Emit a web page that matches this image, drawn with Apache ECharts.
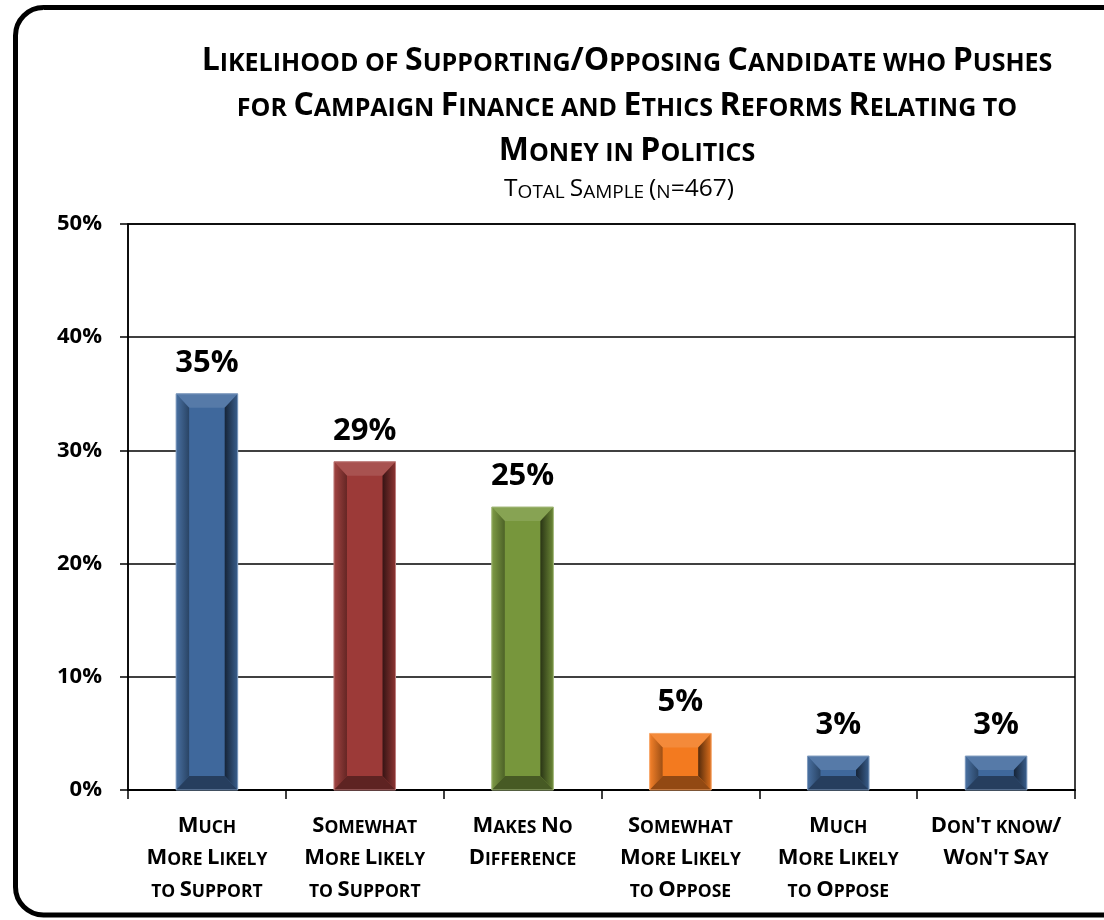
<!DOCTYPE html>
<html>
<head>
<meta charset="utf-8">
<script src="https://cdn.jsdelivr.net/npm/echarts@6/dist/echarts.min.js"></script>
<style>
html,body{margin:0;padding:0;background:#fff;}
#main{width:1104px;height:920px;}
</style>
</head>
<body>
<div id="main"></div>
<script>
// ---- data ----
var categories = [
  "Much\nMore Likely\nto Support",
  "Somewhat\nMore Likely\nto Support",
  "Makes No\nDifference",
  "Somewhat\nMore Likely\nto Oppose",
  "Much\nMore Likely\nto Oppose",
  "Don't know/\nWon't Say"
];
var values = [35, 29, 25, 5, 3, 3];
var barColors = ["#3F689C", "#9C3A38", "#77963C", "#F37A1F", "#3F689C", "#3F689C"];
var titleLines = [
  "Likelihood of Supporting/Opposing Candidate who Pushes",
  "for Campaign Finance and Ethics Reforms Relating to",
  "Money in Politics"
];
var subtitleText = "Total Sample (n=467)";
var yTicks = { min: 0, max: 50, interval: 10 };

var FONT = "Open Sans";

// small caps emulation via rich text
function sc(str, big, small) {
  return str.split("\n").map(function (line) {
    var out = "", cur = null, buf = "";
    for (var i = 0; i < line.length; i++) {
      var ch = line[i];
      var lower = /[a-z]/.test(ch);
      var t = lower ? small : big;
      if (ch === " ") t = cur || small;
      var c = lower ? ch.toUpperCase() : ch;
      if (t !== cur) {
        if (buf) out += "{" + cur + "|" + buf + "}";
        buf = "";
        cur = t;
      }
      buf += c;
    }
    if (buf) out += "{" + cur + "|" + buf + "}";
    return out;
  }).join("\n");
}

function shade(hex, f) {
  var n = parseInt(hex.slice(1), 16);
  var r = (n >> 16) & 255, g = (n >> 8) & 255, b = n & 255;
  function m(c) {
    return f < 0 ? Math.round(c * (1 + f)) : Math.round(c + (255 - c) * f);
  }
  return "rgb(" + m(r) + "," + m(g) + "," + m(b) + ")";
}

var chart = echarts.init(document.getElementById("main"), null, { renderer: "canvas" });

var option = {
  backgroundColor: "#ffffff",
  animation: false,
  grid: {
    left: 128, right: 29, top: 224, bottom: 130,
    show: true, borderColor: "#000", borderWidth: 1.5, backgroundColor: "transparent"
  },
  xAxis: {
    type: "category",
    data: categories,
    boundaryGap: true,
    axisLine: { show: true, lineStyle: { color: "#000", width: 2 } },
    axisTick: { show: true, interval: 0, length: 9, lineStyle: { color: "#000", width: 1.5 } },
    axisLabel: {
      interval: 0,
      margin: 15,
      formatter: function (v) { return sc(v, "b", "s"); },
      rich: {
        b: { fontFamily: FONT, fontWeight: "bold", fontSize: 22, lineHeight: 32, color: "#000", verticalAlign: "bottom" },
        s: { fontFamily: FONT, fontWeight: "bold", fontSize: 17.5, lineHeight: 32, color: "#000", verticalAlign: "bottom" }
      }
    },
    splitLine: { show: false }
  },
  yAxis: {
    type: "value",
    min: yTicks.min, max: yTicks.max, interval: yTicks.interval,
    axisLine: { show: true, lineStyle: { color: "#000", width: 1.5 } },
    axisTick: { show: true, length: 8, lineStyle: { color: "#000", width: 1.5 } },
    axisLabel: {
      formatter: "{value}%",
      margin: 26,
      fontFamily: FONT, fontWeight: "bold", fontSize: 22, color: "#000"
    },
    splitLine: { show: true, lineStyle: { color: "#000", width: 1.5 } }
  },
  graphic: [
    {
      type: "rect", z: 100, silent: true,
      shape: { x: 15.5, y: 7.5, width: 1130, height: 907.5, r: 28 },
      style: { fill: "none", stroke: "#000", lineWidth: 5 }
    },
    {
      type: "text", z: 100, silent: true,
      x: 627, y: 99,
      style: {
        text: sc(titleLines.join("\n"), "b", "s"),
        align: "center", verticalAlign: "middle",
        rich: {
          b: { fontFamily: FONT, fontWeight: "bold", fontSize: 32, lineHeight: 45, fill: "#000", verticalAlign: "bottom" },
          s: { fontFamily: FONT, fontWeight: "bold", fontSize: 25, lineHeight: 45, fill: "#000", verticalAlign: "bottom" }
        }
      }
    },
    {
      type: "text", z: 100, silent: true,
      x: 619, y: 188,
      style: {
        text: sc(subtitleText, "b", "s"),
        align: "center", verticalAlign: "middle",
        rich: {
          b: { fontFamily: FONT, fontWeight: "normal", fontSize: 24.5, lineHeight: 28, fill: "#000", verticalAlign: "bottom" },
          s: { fontFamily: FONT, fontWeight: "normal", fontSize: 19, lineHeight: 28, fill: "#000", verticalAlign: "bottom" }
        }
      }
    }
  ],
  series: [{
    type: "custom",
    data: values.map(function (v, i) { return [i, v]; }),
    encode: { x: 0, y: 1 },
    z: 10,
    renderItem: function (params, api) {
      var i = params.dataIndex;
      var val = api.value(1);
      var top = api.coord([api.value(0), val]);
      var base = api.coord([api.value(0), 0]);
      var bw = api.size([1, 0])[0] * 0.39;
      var cx = top[0];
      var x0 = cx - bw / 2, x1 = cx + bw / 2, y0 = top[1], y1 = base[1];
      var h = y1 - y0;
      var bx = Math.min(13, bw * 0.22);
      var by = Math.min(14, h * 0.42);
      var c = barColors[i];
      var face = c;
      var topC = shade(c, 0.12);
      var leftG = new echarts.graphic.LinearGradient(0, 0, 1, 0, [
        { offset: 0, color: shade(c, 0.05) }, { offset: 1, color: shade(c, -0.35) }
      ]);
      var rightG = new echarts.graphic.LinearGradient(0, 0, 1, 0, [
        { offset: 0, color: shade(c, -0.65) }, { offset: 1, color: shade(c, -0.1) }
      ]);
      var botC = shade(c, -0.4);
      return {
        type: "group",
        children: [
          { type: "rect", shape: { x: x0, y: y0, width: bw, height: h }, style: { fill: face } },
          { type: "polygon", shape: { points: [[x0, y0], [x1, y0], [x1 - bx, y0 + by], [x0 + bx, y0 + by]] }, style: { fill: topC } },
          { type: "polygon", shape: { points: [[x0, y0], [x0 + bx, y0 + by], [x0 + bx, y1 - by], [x0, y1]] }, style: { fill: leftG } },
          { type: "polygon", shape: { points: [[x1, y0], [x1, y1], [x1 - bx, y1 - by], [x1 - bx, y0 + by]] }, style: { fill: rightG } },
          { type: "polygon", shape: { points: [[x0, y1], [x0 + bx, y1 - by], [x1 - bx, y1 - by], [x1, y1]] }, style: { fill: botC } },
          { type: "rect", shape: { x: x0, y: y0, width: bw, height: h }, style: { fill: "none", stroke: shade(c, 0.35), lineWidth: 1 } },
          {
            type: "text", x: cx, y: y0 - 31,
            style: {
              text: val + "%", align: "center", verticalAlign: "middle",
              font: "bold 31px " + FONT, fill: "#000"
            }
          }
        ]
      };
    }
  }]
};

chart.setOption(option);
</script>
</body>
</html>
